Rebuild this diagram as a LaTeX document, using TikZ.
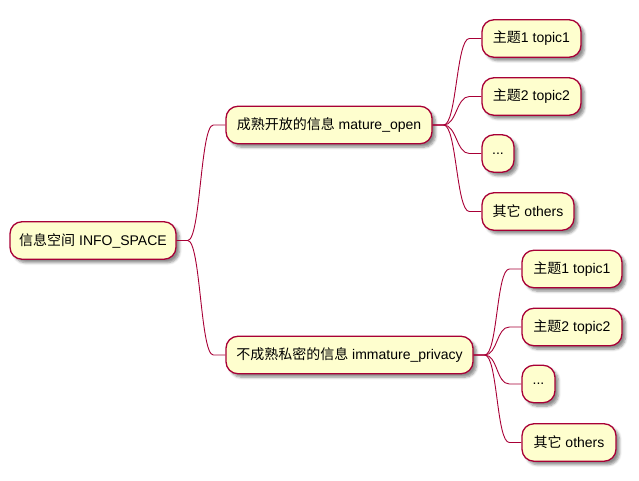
\documentclass[tikz,border=0pt]{standalone}
\usepackage{fontspec}
\setmainfont{Liberation Sans}
\newfontfamily\cjk{Noto Sans CJK SC}
\usetikzlibrary{shadows,shadows.blur,calc}
\definecolor{nodefill}{HTML}{FEFECE}
\definecolor{nodeline}{HTML}{A80036}
\tikzset{
  mmbox/.style={draw=nodeline, line width=1.3pt, fill=nodefill, rounded corners=12pt,
    inner sep=0pt, minimum height=37.5pt, font=\fontsize{14}{16}\selectfont, text=black,
    blur shadow={shadow xshift=3.5pt, shadow yshift=-3.5pt, shadow opacity=45, shadow blur steps=5, shadow blur radius=2.5pt}},
  conn/.style={draw=nodeline, line width=0.9pt},
}
\newcommand{\linkto}[2]{\draw[conn] (#1.east) -- ++(11,0) .. controls +(13,0) and +(-13,0) .. ($(#2.west)+(-12,0)$) -- (#2.west);}
\begin{document}
\begin{tikzpicture}[x=1pt,y=-1pt]
\useasboundingbox (0,0) rectangle (639,481);
\node[mmbox, minimum width=166pt] (root) at (93,240.5) {{\cjk 信息空间} INFO\_SPACE};
\node[mmbox, minimum width=206pt] (mo) at (329,125) {{\cjk 成熟开放的信息} mature\_open};
\node[mmbox, minimum width=247pt] (ip) at (349.5,355) {{\cjk 不成熟私密的信息} immature\_privacy};
\node[mmbox, minimum width=99pt] (m1) at (531.5,38.5) {{\cjk 主题}1 topic1};
\node[mmbox, minimum width=99pt] (m2) at (531.5,96.5) {{\cjk 主题}2 topic2};
\node[mmbox, minimum width=32pt] (m3) at (498,153.5) {...};
\node[mmbox, minimum width=92pt] (m4) at (528,211.5) {{\cjk 其它} others};
\node[mmbox, minimum width=100pt] (i1) at (572,269) {{\cjk 主题}1 topic1};
\node[mmbox, minimum width=100pt] (i2) at (572,327) {{\cjk 主题}2 topic2};
\node[mmbox, minimum width=33pt] (i3) at (538.5,384) {...};
\node[mmbox, minimum width=94pt] (i4) at (569,442.5) {{\cjk 其它} others};
\linkto{root}{mo}
\linkto{root}{ip}
\linkto{mo}{m1}
\linkto{mo}{m2}
\linkto{mo}{m3}
\linkto{mo}{m4}
\linkto{ip}{i1}
\linkto{ip}{i2}
\linkto{ip}{i3}
\linkto{ip}{i4}
\end{tikzpicture}
\end{document}
